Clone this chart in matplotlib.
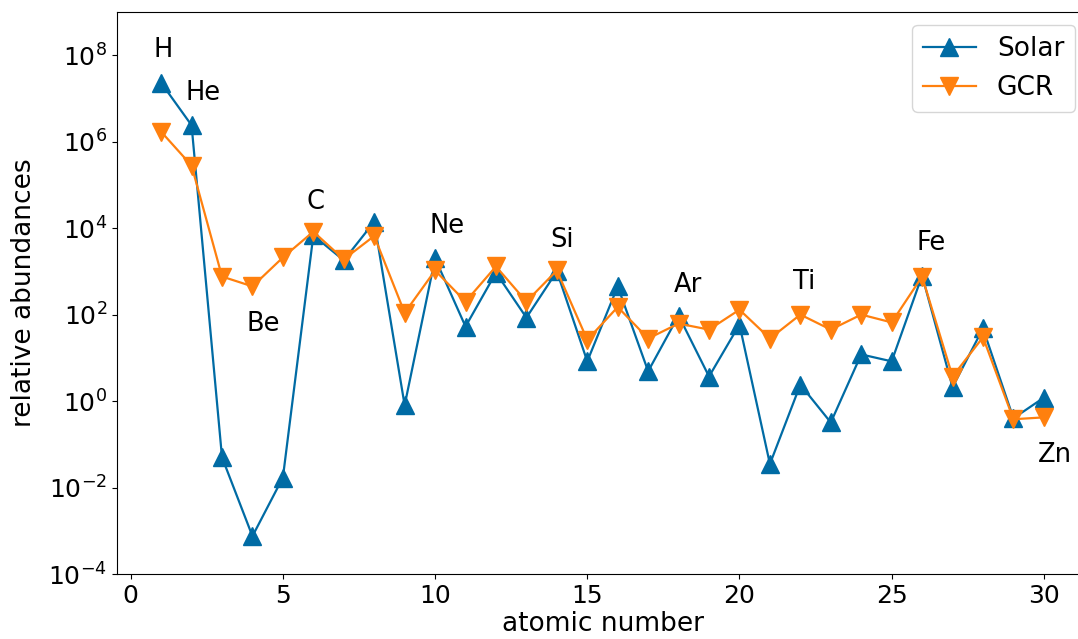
import numpy as np
import matplotlib
matplotlib.use("Agg")
from matplotlib import pyplot as plt

# atomic numbers 1..30 (H .. Zn)
Z = list(range(1, 31))

solar = [2.3e7, 2.4e6, 5.0e-2, 7.5e-4, 1.7e-2, 6.8e3, 1.8e3, 1.4e4, 0.8, 2.0e3,
         53, 930, 85, 1.0e3, 8.3, 450, 4.9, 95, 3.7, 59,
         3.5e-2, 2.4, 0.32, 12, 8.3, 800, 2.1, 48, 0.4, 1.2]

gcr = [1.7e6, 2.8e5, 760, 450, 2.1e3, 8.3e3, 1.9e3, 6.6e3, 110, 1.05e3,
       200, 1.3e3, 200, 1.05e3, 26, 150, 28, 62, 45, 130,
       28, 100, 45, 100, 66, 760, 3.7, 30, 0.38, 0.42]

# element names written next to some points: (name, x, log10 y of baseline)
names = ["H", "He", "Be", "C", "Ne", "Si", "Ar", "Ti", "Fe", "Zn"]
name_x = [1.08, 2.39, 4.34, 6.07, 10.38, 14.18, 18.3, 22.14, 26.3, 30.36]
name_logy = [7.96, 6.97, 1.61, 4.45, 3.89, 3.57, 2.53, 2.60, 3.50, -1.42]

blue = "#006BA4"
orange = "#FF800E"

fig = plt.figure(figsize=(10.78, 6.39), dpi=100)
ax = fig.add_axes([117 / 1078, 65 / 639, 971 / 1078, 562 / 639])

ax.semilogy(Z, solar, "^-", color=blue, ms=13, lw=1.6, label="Solar")
ax.semilogy(Z, gcr, "v-", color=orange, ms=13, lw=1.6, label="GCR")

for n, x, ly in zip(names, name_x, name_logy):
    ax.text(x, 10 ** ly, n, ha="center", va="baseline", fontsize=18.5)

ax.set_ylim(1e-4, 1e9)
ax.set_yticks([1e-4, 1e-2, 1e0, 1e2, 1e4, 1e6, 1e8])
ax.set_xticks([0, 5, 10, 15, 20, 25, 30])
ax.tick_params(labelsize=18)
ax.set_xlabel("atomic number", fontsize=19, labelpad=2.5)
ax.set_ylabel("relative abundances", fontsize=19, labelpad=8)
ax.legend(loc="upper right", fontsize=19)

fig.savefig("out.png", dpi=100)
